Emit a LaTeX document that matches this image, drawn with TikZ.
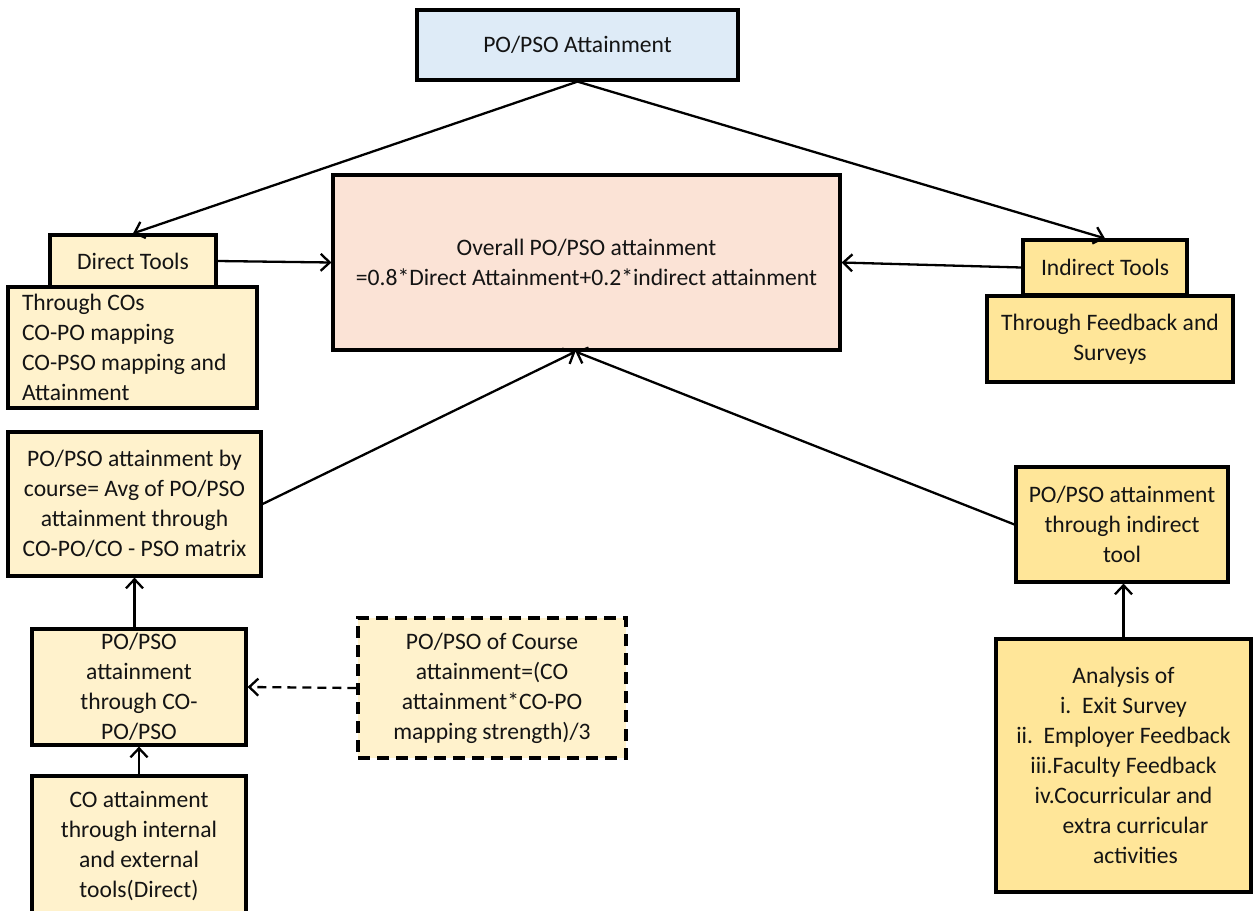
\documentclass[tikz,border=0pt]{standalone}
\usepackage{fontspec}
\setmainfont{Carlito}
\usetikzlibrary{arrows.meta,calc}
\definecolor{topblue}{HTML}{DEEBF7}
\definecolor{peach}{HTML}{FBE3D6}
\definecolor{lightyel}{HTML}{FFF2CC}
\definecolor{darkyel}{HTML}{FFE699}
\definecolor{txt}{HTML}{141414}
\begin{document}
\begin{tikzpicture}[x=1pt,y=-1pt,
  box/.style={draw=black,line width=3.2pt,inner sep=0pt,align=center,text=txt,
    font=\fontsize{23.6}{30}\selectfont},
  arr/.style={line width=2.3pt,-{Straight Barb[length=9pt,width=17pt,line width=2.3pt]}},
]
\useasboundingbox[fill=white] (0,0) rectangle (1254,911);
\clip (0,0) rectangle (1254,911);

% top level
\node[box,fill=topblue,minimum width=321pt,minimum height=70pt] (top) at (577.5,45) {PO/PSO Attainment};
\node[box,fill=peach,minimum width=507pt,minimum height=175pt] (overall) at (586.5,262.5)
  {Overall PO/PSO attainment\\=0.8*Direct Attainment+0.2*indirect attainment};

% direct side
\node[box,fill=lightyel,minimum width=166pt,minimum height=52pt] (dt) at (133,261) {Direct Tools};
\node[box,fill=lightyel,minimum width=249pt,minimum height=121pt,text width=221pt,inner xsep=14pt,align=flush left] (dtl) at (132.5,347.5)
  {Through COs\\CO-PO mapping\\CO-PSO mapping and\\Attainment};
\node[box,fill=lightyel,minimum width=253pt,minimum height=144pt] (bc) at (134.5,504)
  {PO/PSO attainment by\\course= Avg of PO/PSO\\attainment through\\CO-PO/CO - PSO matrix};
\node[box,fill=lightyel,minimum width=214pt,minimum height=116pt] (thr) at (139,687)
  {PO/PSO\\attainment\\through CO-\\PO/PSO};
\node[box,fill=lightyel,minimum width=214pt,minimum height=140pt] (co) at (139,846)
  {CO attainment\\through internal\\and external\\tools(Direct)};
\node[box,fill=lightyel,dash pattern=on 12pt off 7pt,minimum width=268pt,minimum height=140pt] (frm) at (492,688)
  {PO/PSO of Course\\attainment=(CO\\attainment*CO-PO\\mapping strength)/3};

% indirect side
\node[box,fill=darkyel,minimum width=164pt,minimum height=55pt] (it) at (1105,267.5) {Indirect Tools};
\node[box,fill=darkyel,minimum width=246pt,minimum height=86pt] (itl) at (1110,339)
  {Through Feedback and\\Surveys};
\node[box,fill=darkyel,minimum width=212pt,minimum height=115pt] (ind) at (1122,524.5)
  {PO/PSO attainment\\through indirect\\tool};
\node[box,fill=darkyel,minimum width=255pt,minimum height=253pt] (an) at (1123.5,765.5)
  {Analysis of\\i.\ \ Exit Survey\\ii.\ \ Employer Feedback\\iii.Faculty Feedback\\iv.Cocurricular and\\\hspace*{24pt}extra curricular\\\hspace*{24pt}activities};

% connectors
\coordinate (hub) at ($(overall.south)+(-11,0)$);
\draw[arr] (top.south) -- (dt.north);
\draw[arr] (top.south) -- (it.north);
\draw[arr] (dt.east) -- (overall.west);
\draw[arr] (it.west) -- (overall.east);
\draw[arr] (bc.east) -- (hub);
\draw[arr] (ind.west) -- (hub);
\draw[arr] (thr.north -| bc.south) -- (bc.south);
\draw[arr] (co.north) -- (thr.south);
\draw[arr,dash pattern=on 9pt off 6pt] (frm.west) -- (thr.east);
\draw[arr] (an.north) -- (an.north |- ind.south);
\end{tikzpicture}
\end{document}
